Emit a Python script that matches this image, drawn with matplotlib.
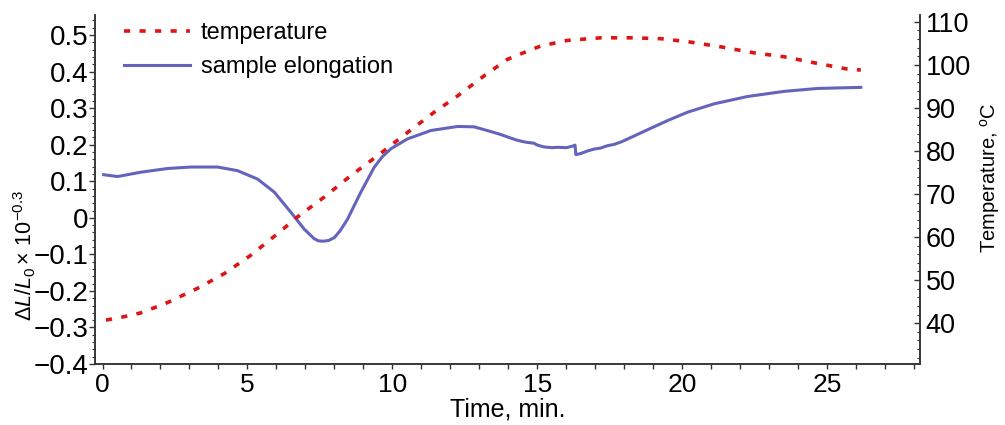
import matplotlib.pyplot as plt
from matplotlib.ticker import MultipleLocator, FuncFormatter

plt.rcParams['font.family'] = ['Liberation Sans', 'DejaVu Sans']
plt.rcParams['mathtext.fontset'] = 'custom'
plt.rcParams['mathtext.rm'] = 'Liberation Sans'
plt.rcParams['mathtext.it'] = 'Liberation Sans:italic'

# sample elongation (left axis)
t_el = [0.04, 0.52, 1.33, 2.25, 3.05, 3.97, 4.66, 5.35, 5.93, 6.5, 6.96, 7.3,
        7.45, 7.61, 7.8, 8.0, 8.2, 8.45, 8.91, 9.37, 9.65, 9.95, 10.52, 11.33,
        12.25, 12.82, 13.4, 13.74, 14.09, 14.32, 14.6, 14.89, 15.0, 15.23, 15.5,
        15.7, 16.0, 16.21, 16.3, 16.33, 16.5, 16.73, 16.95, 17.19, 17.4, 17.65,
        17.9, 18.34, 18.91, 19.49, 20.18, 21.1, 22.25, 23.51, 24.66, 26.16]
elong = [0.118, 0.113, 0.125, 0.135, 0.139, 0.139, 0.129, 0.106, 0.070, 0.015,
         -0.031, -0.057, -0.063, -0.064, -0.062, -0.054, -0.035, -0.004, 0.070,
         0.138, 0.167, 0.189, 0.216, 0.239, 0.250, 0.249, 0.236, 0.228, 0.218,
         0.212, 0.207, 0.204, 0.199, 0.194, 0.192, 0.193, 0.192, 0.196, 0.199,
         0.173, 0.176, 0.183, 0.188, 0.191, 0.197, 0.201, 0.208, 0.224, 0.245,
         0.266, 0.289, 0.312, 0.332, 0.346, 0.354, 0.357]

# temperature (right axis)
t_temp = [0.12, 0.75, 1.33, 2.25, 3.28, 4.2, 5.12, 6.04, 6.73, 7.65, 8.57,
          9.49, 10.52, 11.44, 12.25, 13.17, 13.97, 14.55, 15.12, 16.04, 17.19,
          18.22, 19.26, 20.29, 21.33, 22.48, 23.51, 24.55, 25.64, 26.16]
temp = [40.7, 41.5, 42.4, 44.8, 48.1, 51.5, 55.8, 60.8, 64.7, 69.3, 74.3,
        78.9, 84.3, 89.0, 92.8, 97.5, 101.3, 102.9, 104.4, 105.7, 106.3,
        106.3, 106.1, 105.3, 104.2, 102.8, 101.9, 100.5, 99.1, 98.8]

left_ticks = [-0.4, -0.3, -0.2, -0.1, 0, 0.1, 0.2, 0.3, 0.4, 0.5]
right_ticks = [40, 50, 60, 70, 80, 90, 100, 110]
x_ticks = [0, 5, 10, 15, 20, 25]

fig = plt.figure(figsize=(10.05, 4.25), dpi=100)
ax = fig.add_axes([0.0945, 0.1435, 0.8209, 0.8212])
ax2 = ax.twinx()

blue = '#6464bc'
red = '#dd1515'
l1, = ax.plot(t_el, elong, color=blue, lw=2.2, zorder=3)
l2, = ax2.plot(t_temp, temp, color=red, lw=2.6, ls=(0, (1.7, 2.6)))

ax.set_xlim(-0.26, 28.2)
ax.set_ylim(-0.4, 0.555)
ax2.set_ylim(30.5, 111.6)

ax.set_xticks(x_ticks)
ax.xaxis.set_minor_locator(MultipleLocator(1))
ax.set_yticks(left_ticks)
ax.yaxis.set_minor_locator(MultipleLocator(0.02))
ax.yaxis.set_major_formatter(FuncFormatter(lambda v, p: ('%g' % round(v, 2)).replace('-', '\u2212')))
ax2.set_yticks(right_ticks)
ax2.yaxis.set_minor_locator(MultipleLocator(2))

for a in (ax, ax2):
    for s in a.spines.values():
        s.set_color('#333333')
        s.set_linewidth(1.1)
    a.spines['top'].set_visible(False)

ax.tick_params(axis='x', which='both', direction='out', length=3.5, width=1, colors='#333333',
               labelsize=19, labelcolor='black', pad=3)
ax.tick_params(axis='y', which='major', direction='out', length=4, width=1, colors='#333333',
               labelsize=20, labelcolor='black', pad=1)
ax.tick_params(axis='y', which='minor', direction='out', length=2, width=0.8, colors='#333333')
ax2.tick_params(axis='y', which='major', direction='in', length=4, width=1, colors='#333333',
                labelsize=19.5, labelcolor='black', pad=4)
ax2.tick_params(axis='y', which='minor', direction='in', length=2, width=0.8, colors='#333333')

ax.set_xlabel('Time, min.', fontsize=18, labelpad=0)
ax.set_ylabel(r'$\Delta L/L_0 \times\, 10^{-0.3}$', fontsize=15.5)
ax.yaxis.set_label_coords(-0.069, 0.31)
ax2.set_ylabel(r'Temperature, $^{\rm o}$C', fontsize=14.5)
ax2.yaxis.set_label_coords(1.07, 0.533)

ax.legend([l2, l1], ['temperature', 'sample elongation'], loc='upper left',
          bbox_to_anchor=(0.035, 0.98), frameon=False, fontsize=17,
          handlelength=2.8, handletextpad=0.45, labelspacing=0.5,
          borderpad=0, borderaxespad=0)

fig.savefig('out.png', dpi=100)
